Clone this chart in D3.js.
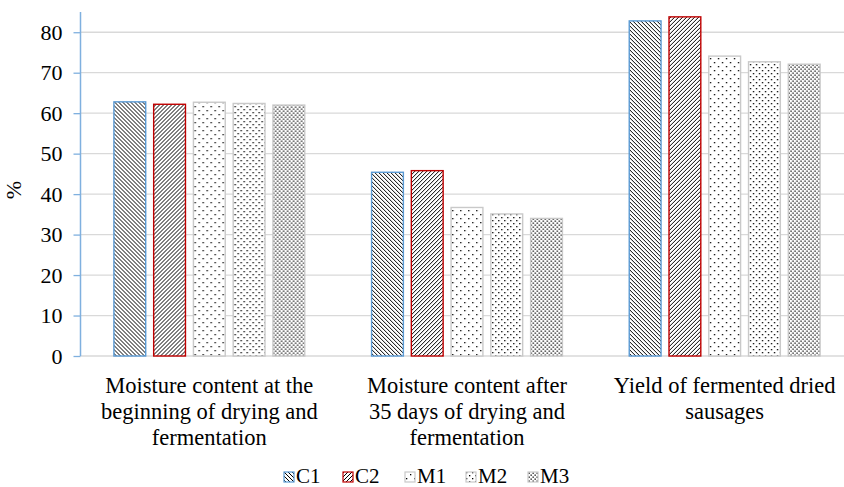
<!DOCTYPE html>
<html>
<head>
<meta charset="utf-8">
<script src="https://cdn.jsdelivr.net/npm/d3@7"></script>
</head>
<body style="margin:0">
<svg id="chart" width="844" height="487" font-family="Liberation Serif"></svg>
<script>
const categories = [
  "Moisture content at the\nbeginning of drying and\nfermentation",
  "Moisture content after\n35 days of drying and\nfermentation",
  "Yield of fermented dried\nsausages"
];
const seriesNames = ["C1", "C2", "M1", "M2", "M3"];
const C1 = [62.8, 45.4, 82.8];
const C2 = [62.2, 45.8, 83.8];
const M1 = [62.7, 36.7, 74.1];
const M2 = [62.4, 35.1, 72.7];
const M3 = [62.0, 34.0, 72.1];
const yTicks = [0, 10, 20, 30, 40, 50, 60, 70, 80];
const yTitle = "%";

const FONT = "Liberation Serif";
const FS_LABEL = 22.5;
const FS_TICK = 22;
const FS_LEGEND = 21;
const seriesValues = { C1, C2, M1, M2, M3 };
const strokeColors = { C1: "#5b9bd5", C2: "#c00000", M1: "#c9c9c9", M2: "#c9c9c9", M3: "#c9c9c9" };

const svg = d3.select("#chart");
const defs = svg.append("defs");

function stripePattern(id, dir) {
  const s = 4;
  const p = defs.append("pattern").attr("id", id).attr("patternUnits", "userSpaceOnUse")
    .attr("width", s).attr("height", s);
  p.append("rect").attr("width", s).attr("height", s).attr("fill", "#fff");
  const d = dir === "back"
    ? `M-1,-1 L${s + 1},${s + 1} M-1,${s - 1} L1,${s + 1} M${s - 1},-1 L${s + 1},1`
    : `M-1,${s + 1} L${s + 1},-1 M-1,1 L1,-1 M${s - 1},${s + 1} L${s + 1},${s - 1}`;
  p.append("path").attr("d", d).attr("stroke", "#000").attr("stroke-width", 1);
}
function dotPattern(id, w, h, pts) {
  const p = defs.append("pattern").attr("id", id).attr("patternUnits", "userSpaceOnUse")
    .attr("width", w).attr("height", h);
  p.append("rect").attr("width", w).attr("height", h).attr("fill", "#fff");
  pts.forEach(([x, y]) => p.append("rect").attr("x", x).attr("y", y).attr("width", 1.3).attr("height", 1.3).attr("fill", "#000"));
}
stripePattern("pC1", "back");
stripePattern("pC2", "fwd");
dotPattern("pM1", 8, 8, [[2, 2], [6, 6]]);
dotPattern("pM2", 6, 6, [[1, 1], [4, 4]]);
dotPattern("pM3", 4, 4, [[0.5, 0.5], [2.5, 2.5]]);

const plotLeft = 80.5, plotRight = 853.5, plotTop = 12, plotBottom = 356;

const y = d3.scaleLinear().domain([0, 85]).range([plotBottom, plotTop]);
const x0 = d3.scaleBand().domain(categories).range([plotLeft, plotRight]).padding(0);
const x1 = d3.scaleBand().domain(seriesNames).range([0, x0.bandwidth()])
  .paddingInner(0.2).paddingOuter(0.84);

svg.append("g").selectAll("line").data(yTicks.filter(t => t > 0)).join("line")
  .attr("x1", plotLeft).attr("x2", 844)
  .attr("y1", d => y(d)).attr("y2", d => y(d))
  .attr("stroke", "#d9d9d9").attr("stroke-width", 1.3);

svg.append("line").attr("x1", plotLeft).attr("x2", 844)
  .attr("y1", y(0)).attr("y2", y(0))
  .attr("stroke", "#d9d9d9").attr("stroke-width", 1.5);

const groups = svg.append("g").selectAll("g").data(categories).join("g")
  .attr("transform", d => `translate(${x0(d)},0)`);
groups.selectAll("rect").data((d, i) => seriesNames.map(s => ({ s, v: seriesValues[s][i] })))
  .join("rect")
  .attr("x", d => x1(d.s))
  .attr("width", x1.bandwidth())
  .attr("y", d => y(d.v))
  .attr("height", d => y(0) - y(d.v))
  .attr("fill", d => `url(#p${d.s})`)
  .attr("stroke", d => strokeColors[d.s])
  .attr("stroke-width", 1.4);

const yAxis = d3.axisLeft(y).tickValues(yTicks).tickSize(7).tickPadding(11);
const gy = svg.append("g").attr("transform", `translate(${plotLeft},0)`).call(yAxis);
gy.attr("font-family", FONT).attr("font-size", FS_TICK);
gy.select(".domain").attr("stroke", "#7fb0df").attr("stroke-width", 1.5)
  .attr("d", `M0,${plotTop}V${plotBottom}`);
gy.selectAll(".tick line").attr("stroke", "#7fb0df").attr("stroke-width", 1.3);
gy.selectAll(".tick text").attr("fill", "#000").attr("font-family", FONT).attr("font-size", FS_TICK);

svg.append("text").attr("transform", "translate(21,190) rotate(-90)")
  .attr("text-anchor", "middle").attr("font-size", FS_TICK).attr("font-family", FONT).attr("fill", "#000")
  .text(yTitle);

const labelLines = [];
categories.forEach(c => c.split("\n").forEach((line, i) => labelLines.push({ c, line, i })));
svg.append("g").selectAll("text").data(labelLines).join("text")
  .attr("text-anchor", "middle").attr("font-size", FS_LABEL).attr("font-family", FONT).attr("fill", "#000")
  .attr("x", d => x0(d.c) + x0.bandwidth() / 2)
  .attr("y", d => 392.5 + d.i * 26)
  .text(d => d.line);

const legendX = [284, 343, 405, 466, 528];
seriesNames.forEach((s, i) => {
  svg.append("rect").attr("x", legendX[i]).attr("y", 472).attr("width", 10).attr("height", 10)
    .attr("fill", `url(#p${s})`).attr("stroke", strokeColors[s]).attr("stroke-width", 1.2);
  svg.append("text").attr("x", legendX[i] + 12).attr("y", 483).attr("font-size", FS_LEGEND).attr("font-family", FONT)
    .attr("fill", "#000").text(s);
});
</script>
</body>
</html>
